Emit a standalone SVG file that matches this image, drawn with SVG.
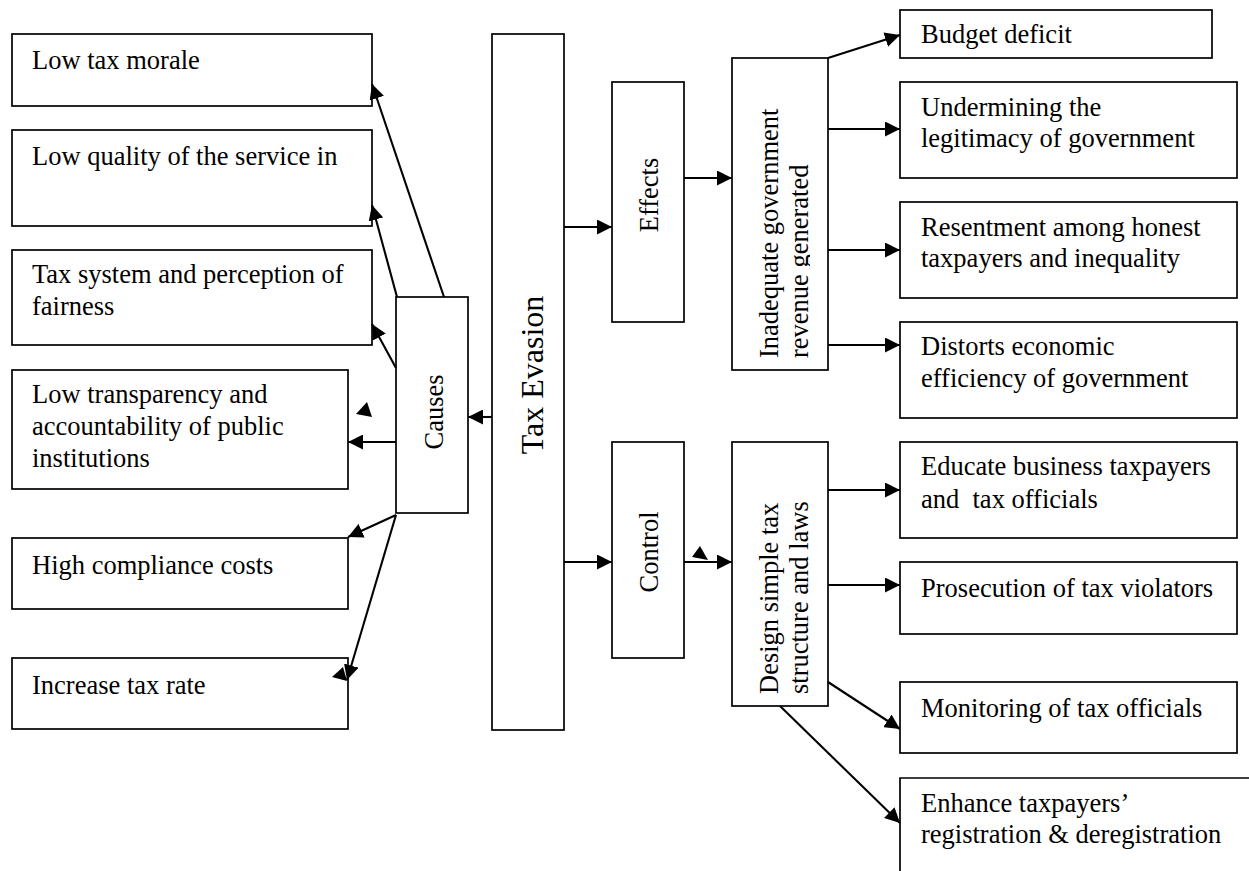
<svg xmlns="http://www.w3.org/2000/svg" width="1249" height="871" viewBox="0 0 1249 871">
<style>
.box{fill:#fff;stroke:#000;stroke-width:1.7}
.t{font-family:"Liberation Serif","Times New Roman",serif;font-size:26.5px;fill:#000}
.big{font-size:32px}
.c{stroke:#000;stroke-width:2.1;fill:none}
.ah{fill:#000}
</style>
<defs>
<marker id="ah" markerUnits="userSpaceOnUse" markerWidth="16" markerHeight="15" refX="15" refY="7.5" orient="auto"><path d="M0,0 L15,7.5 L0,15 z" fill="#000"/></marker>
<clipPath id="clipInad"><rect x="733" y="59" width="77" height="310"/></clipPath>
</defs>
<rect width="1249" height="871" fill="#fff"/>

<g id="n-lowmorale"><rect class="box" x="12" y="34" width="360" height="72"/><text class="t" x="32" y="69">Low tax morale</text></g>
<g id="n-lowquality"><rect class="box" x="12" y="130" width="360" height="96"/><text class="t" x="32" y="165">Low quality of the service in</text></g>
<g id="n-taxsystem"><rect class="box" x="12" y="250" width="360" height="95"/><text class="t" x="32" y="283">Tax system and perception of</text><text class="t" x="32" y="315">fairness</text></g>
<g id="n-transparency"><rect class="box" x="12" y="370" width="336" height="119"/><text class="t" x="32" y="403">Low transparency and</text><text class="t" x="32" y="435">accountability of public</text><text class="t" x="32" y="467">institutions</text></g>
<g id="n-compliance"><rect class="box" x="12" y="538" width="336" height="71"/><text class="t" x="32" y="574">High compliance costs</text></g>
<g id="n-increase"><rect class="box" x="12" y="658" width="336" height="71"/><text class="t" x="32" y="694">Increase tax rate</text></g>

<g id="n-causes"><rect class="box" x="396" y="297" width="72" height="216"/><text class="t" text-anchor="middle" transform="translate(443,412) rotate(-90)">Causes</text></g>
<g id="n-taxevasion"><rect class="box" x="492" y="34" width="72" height="696"/><text class="t big" text-anchor="middle" transform="translate(543,375) rotate(-90)">Tax Evasion</text></g>
<g id="n-effects"><rect class="box" x="612" y="82" width="72" height="240"/><text class="t" text-anchor="middle" transform="translate(658,195) rotate(-90)">Effects</text></g>
<g id="n-control"><rect class="box" x="612" y="442" width="72" height="216"/><text class="t" text-anchor="middle" transform="translate(658,552) rotate(-90)">Control</text></g>
<g id="n-inadequate"><rect class="box" x="732" y="58" width="96" height="312"/><g clip-path="url(#clipInad)"><text class="t" transform="translate(778,358) rotate(-90)">Inadequate government</text><text class="t" transform="translate(808,358) rotate(-90)">revenue generated</text></g></g>
<g id="n-design"><rect class="box" x="732" y="442" width="96" height="264"/><text class="t" transform="translate(778,694) rotate(-90)">Design simple tax</text><text class="t" transform="translate(808,694) rotate(-90)">structure and laws</text></g>

<g id="n-budget"><rect class="box" x="900" y="10" width="312" height="48"/><text class="t" x="921" y="43">Budget deficit</text></g>
<g id="n-undermining"><rect class="box" x="900" y="82" width="337" height="96"/><text class="t" x="921" y="116">Undermining the</text><text class="t" x="921" y="147">legitimacy of government</text></g>
<g id="n-resentment"><rect class="box" x="900" y="202" width="337" height="96"/><text class="t" x="921" y="236">Resentment among honest</text><text class="t" x="921" y="267">taxpayers and inequality</text></g>
<g id="n-distorts"><rect class="box" x="900" y="322" width="337" height="96"/><text class="t" x="921" y="355">Distorts economic</text><text class="t" x="921" y="387">efficiency of government</text></g>
<g id="n-educate"><rect class="box" x="900" y="442" width="337" height="96"/><text class="t" x="921" y="475" xml:space="preserve">Educate business taxpayers</text><text class="t" x="921" y="508" xml:space="preserve">and  tax officials</text></g>
<g id="n-prosecution"><rect class="box" x="900" y="562" width="337" height="72"/><text class="t" x="921" y="597">Prosecution of tax violators</text></g>
<g id="n-monitoring"><rect class="box" x="900" y="682" width="337" height="71"/><text class="t" x="921" y="717">Monitoring of tax officials</text></g>
<g id="n-enhance"><path class="box" d="M1252,778 H900 V875" fill="none"/><text class="t" x="921" y="812">Enhance taxpayers’</text><text class="t" x="921" y="843">registration &amp; deregistration</text></g>

<g id="connectors">
<line class="c" x1="444" y1="297" x2="372" y2="84" marker-end="url(#ah)"/>
<line class="c" x1="397" y1="297" x2="372" y2="205" marker-end="url(#ah)"/>
<line class="c" x1="396" y1="368" x2="372" y2="324" marker-end="url(#ah)"/>
<line class="c" x1="396" y1="442" x2="348" y2="442" marker-end="url(#ah)"/>
<line class="c" x1="396" y1="515" x2="348" y2="537" marker-end="url(#ah)"/>
<line class="c" x1="396" y1="515" x2="347" y2="680" marker-end="url(#ah)"/>
<polygon class="ah" points="356,414 367,402 372,417"/>
<polygon class="ah" points="332,677 343,667 347,681"/>
<line class="c" x1="492" y1="417" x2="468" y2="417" marker-end="url(#ah)"/>
<line class="c" x1="564" y1="227" x2="612" y2="227" marker-end="url(#ah)"/>
<line class="c" x1="564" y1="562" x2="612" y2="562" marker-end="url(#ah)"/>
<line class="c" x1="684" y1="178" x2="732" y2="178" marker-end="url(#ah)"/>
<line class="c" x1="684" y1="562" x2="732" y2="562" marker-end="url(#ah)"/>
<polygon class="ah" points="692,557 700,546 708,560"/>
<line class="c" x1="828" y1="58" x2="900" y2="35" marker-end="url(#ah)"/>
<line class="c" x1="828" y1="129" x2="900" y2="129" marker-end="url(#ah)"/>
<line class="c" x1="828" y1="250" x2="900" y2="250" marker-end="url(#ah)"/>
<line class="c" x1="828" y1="345" x2="900" y2="345" marker-end="url(#ah)"/>
<line class="c" x1="828" y1="490" x2="900" y2="490" marker-end="url(#ah)"/>
<line class="c" x1="828" y1="585" x2="900" y2="585" marker-end="url(#ah)"/>
<line class="c" x1="828" y1="682" x2="900" y2="729" marker-end="url(#ah)"/>
<line class="c" x1="780" y1="706" x2="900" y2="823" marker-end="url(#ah)"/>
</g>
</svg>
